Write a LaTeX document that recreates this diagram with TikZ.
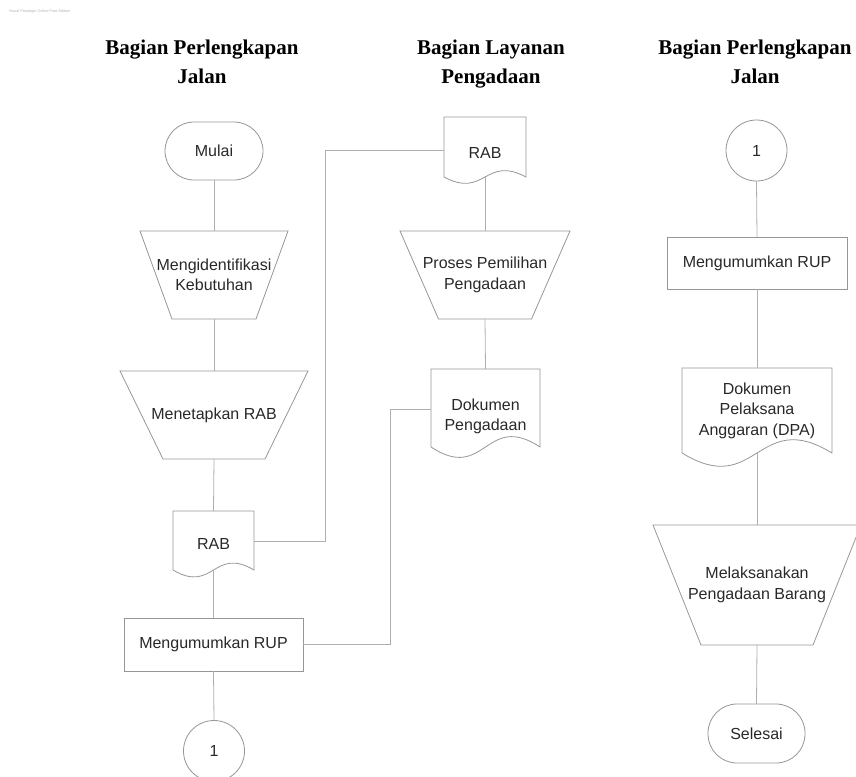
\documentclass[tikz,border=0pt]{standalone}
\usepackage{fontspec}
\setmainfont{Liberation Serif}
\newfontfamily\vpsans{Liberation Sans}
\usetikzlibrary{calc}

\definecolor{vpline}{RGB}{175,175,175}
\definecolor{vpborder}{RGB}{150,150,150}
\definecolor{vptext}{RGB}{40,40,40}

\begin{document}
\begin{tikzpicture}[x=1pt,y=-1pt,
    every node/.style={outer sep=0pt, inner sep=0pt, text=vptext},
    box/.style={draw=vpborder, line width=0.8pt, font=\vpsans\fontsize{16}{20.5}\selectfont, align=center},
    terminal/.style={box, rounded corners=29pt, minimum width=98pt, minimum height=58pt},
    process/.style={box, minimum width=180pt, minimum height=53pt},
    connector/.style={box, circle, minimum size=61pt},
    manop/.style={box, draw=none},
    document/.style={box, draw=none},
    lane/.style={font=\fontsize{21}{29}\selectfont\bfseries, align=center, anchor=north, text=black},
    outline/.style={draw=vpborder, line width=0.8pt},
    flow/.style={draw=vpline, line width=0.8pt}]
    \useasboundingbox (0,0) rectangle (856,776);

    \node[anchor=west, font=\vpsans\fontsize{3.8}{4}\selectfont, text=gray!60] (watermark) at (9,12) {Visual Paradigm Online Free Edition};

    % Lanes
    \node[lane] (lane1) at (202,40) {Bagian Perlengkapan\\Jalan};
    \node[lane] (lane2) at (491,40) {Bagian Layanan\\Pengadaan};
    \node[lane] (lane3) at (755,40) {Bagian Perlengkapan\\Jalan};

    % Bagian Perlengkapan Jalan (kiri)
    \node[terminal] (mulai) at (214,151) {Mulai};
    \node[manop, minimum width=148pt, minimum height=88pt] (identifikasi) at (214,275) {Mengidentifikasi\\Kebutuhan};
    \node[manop, minimum width=188pt, minimum height=88pt] (tetap) at (214,415) {Menetapkan RAB};
    \node[document, minimum width=81pt, minimum height=66pt] (rab1) at (213.5,544) {RAB};
    \node[process, minimum width=179pt] (rup1) at (213.5,644.5) {Mengumumkan RUP};
    \node[connector] (c1) at (214,751) {1};

    % Bagian Layanan Pengadaan
    \node[document, minimum width=82pt, minimum height=72pt] (rab2) at (485,153) {RAB};
    \node[manop, minimum width=170pt, minimum height=88pt] (pemilihan) at (485,275) {Proses Pemilihan\\Pengadaan};
    \node[document, minimum width=109pt, minimum height=95pt] (dokumen) at (485.5,416.5) {Dokumen\\Pengadaan};

    % Bagian Perlengkapan Jalan (kanan)
    \node[connector] (c2) at (756.5,150.5) {1};
    \node[process, minimum height=52pt] (rup2) at (757,263) {Mengumumkan RUP};
    \node[document, minimum width=150pt, minimum height=85pt] (dpa) at (757,410.5) {Dokumen\\Pelaksana\\Anggaran (DPA)};
    \node[manop, minimum width=208pt, minimum height=120pt] (laksana) at (757,585) {Melaksanakan\\Pengadaan Barang};
    \node[terminal, minimum width=97pt, minimum height=59pt] (selesai) at (756.5,733.5) {Selesai};

    % Manual operation outlines
    \foreach \n/\i in {identifikasi/32, tetap/43, pemilihan/38.5, laksana/48}
        \draw[outline] (\n.north west) -- (\n.north east) -- ($(\n.south east)+(-\i,0)$) -- ($(\n.south west)+(\i,0)$) -- cycle;

    % Document outlines (wave lifted by \d above the node's bottom)
    \foreach \n/\a/\d in {rab1/24/7, rab2/22/12, dokumen/36/17, dpa/46/0}
        \draw[outline] ($(\n.south west)+(0,-\d)$) -- (\n.north west) -- (\n.north east) -- ($(\n.south east)+(0,-\d)$)
            .. controls ($(\n.south)+(0,-\a-\d)$) and ($(\n.south)+(0,\a-\d)$) .. ($(\n.south west)+(0,-\d)$);

    % Flow
    \coordinate (e1) at ($(rab1.south)+(0,-7)$);
    \coordinate (e2) at ($(rab2.south)+(0,-12)$);
    \coordinate (e3) at ($(dokumen.south)+(0,-17)$);
    \foreach \a/\b in {mulai.south/identifikasi, identifikasi.south/tetap, tetap.south/rab1, e1/rup1, rup1.south/c1,
                       e2/pemilihan, pemilihan.south/dokumen,
                       c2.south/rup2, rup2.south/dpa, dpa.south/laksana, laksana.south/selesai}
        \draw[flow] (\a) -- (\b.north);

    \coordinate (k0) at (325,541);
    \coordinate (k1) at (325,150);
    \coordinate (k2) at (390,409);
    \draw[flow] (k0 -| rab1.east) -- (k0) -- (k1) -- (k1 -| rab2.west);
    \draw[flow] (rup1.east) -| (k2) -- (k2 -| dokumen.west);
\end{tikzpicture}
\end{document}
